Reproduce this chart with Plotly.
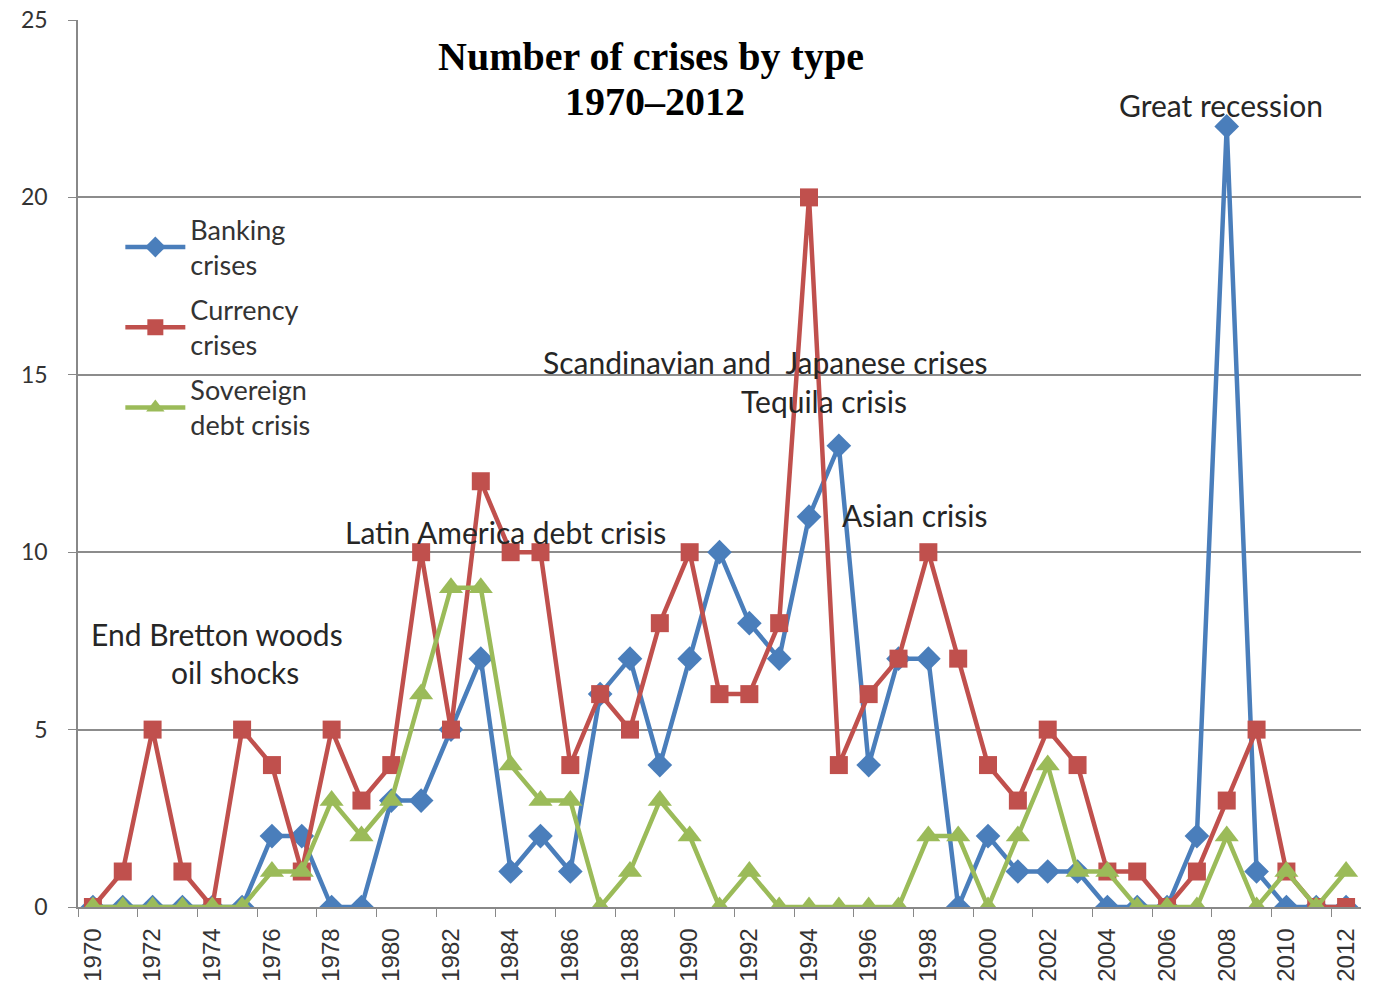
import plotly.graph_objects as go

years = list(range(1970, 2013))
banking = [0, 0, 0, 0, 0, 0, 2, 2, 0, 0, 3, 3, 5, 7, 1, 2, 1, 6, 7, 4, 7, 10, 8, 7, 11, 13,
           4, 7, 7, 0, 2, 1, 1, 1, 0, 0, 0, 2, 22, 1, 0, 0, 0]
currency = [0, 1, 5, 1, 0, 5, 4, 1, 5, 3, 4, 10, 5, 12, 10, 10, 4, 6, 5, 8, 10, 6, 6, 8, 20, 4,
            6, 7, 10, 7, 4, 3, 5, 4, 1, 1, 0, 1, 3, 5, 1, 0, 0]
sovereign = [0, 0, 0, 0, 0, 0, 1, 1, 3, 2, 3, 6, 9, 9, 4, 3, 3, 0, 1, 3, 2, 0, 1, 0, 0, 0,
             0, 0, 2, 2, 0, 2, 4, 1, 1, 0, 0, 0, 2, 0, 1, 0, 1]

series_names = ["Banking<br>crises", "Currency<br>crises", "Sovereign<br>debt crisis"]
colors = ["#4A7EBB", "#C0504D", "#9BBB59"]
symbols = ["diamond", "square", "triangle-up"]
marker_sizes = [19, 18, 21]

annotations_text = [
    ("End Bretton woods", 1974.15, 7.69),
    ("oil shocks", 1974.76, 6.62),
    ("Latin America debt crisis", 1983.83, 10.56),
    ("Scandinavian and  Japanese crises", 1992.54, 15.35),
    ("Tequila crisis", 1994.51, 14.25),
    ("Asian crisis", 1997.53, 11.04),
    ("Great recession", 2007.81, 22.60),
]

fig = go.Figure()
for i, (name, vals, col, sym, ms) in enumerate(zip(series_names, [banking, currency, sovereign],
                                                   colors, symbols, marker_sizes)):
    fig.add_trace(go.Scatter(
        x=years, y=vals, name=name, mode="lines+markers", legendgroup=f"g{i}",
        line=dict(color=col, width=4.5),
        marker=dict(symbol=sym, size=ms, color=col, line=dict(width=0)),
    ))

for txt, x, y in annotations_text:
    fig.add_annotation(x=x, y=y, xref="x", yref="y", text=txt, showarrow=False,
                       font=dict(family="Lato", size=30, color="#262626"))

fig.add_annotation(x=1988.69, y=23.97, xref="x", yref="y", showarrow=False,
                   text="<b>Number of crises by type</b>",
                   font=dict(family="Liberation Serif", size=40, color="#000000"))
fig.add_annotation(x=1988.85, y=22.69, xref="x", yref="y", showarrow=False,
                   text="<b>1970–2012</b>",
                   font=dict(family="Liberation Serif", size=40, color="#000000"))

fig.update_layout(
    width=1374, height=987,
    margin=dict(l=78, r=13, t=20, b=80),
    paper_bgcolor="white", plot_bgcolor="white",
    showlegend=True,
    legend=dict(x=0.033, y=0.791, xanchor="left", yanchor="top",
                bgcolor="rgba(255,255,255,0)", tracegroupgap=7, itemwidth=60,
                font=dict(family="Lato", size=27, color="#333333")),
)
fig.update_xaxes(
    range=[1969.5, 2012.5], tickmode="linear", tick0=1970, dtick=2,
    tickangle=-90, showgrid=False, zeroline=False, automargin=False,
    showline=True, linecolor="#888888", linewidth=1.5,
    ticks="", ticklabelstandoff=10,
    minor=dict(ticks="outside", tick0=1969.5, dtick=2, ticklen=8, tickcolor="#888888", showgrid=False),
    tickfont=dict(family="Liberation Sans", size=24, color="#333333"),
)
fig.update_yaxes(
    range=[0, 25], tickmode="linear", tick0=0, dtick=5,
    showgrid=True, gridcolor="#8c8c8c", gridwidth=1.5, zeroline=False, automargin=False,
    showline=True, linecolor="#888888", linewidth=1.5,
    ticks="outside", ticklen=8, tickcolor="#888888", ticklabelstandoff=16,
    tickfont=dict(family="Lato", size=23, color="#333333"),
)

fig.write_html("out.html")
